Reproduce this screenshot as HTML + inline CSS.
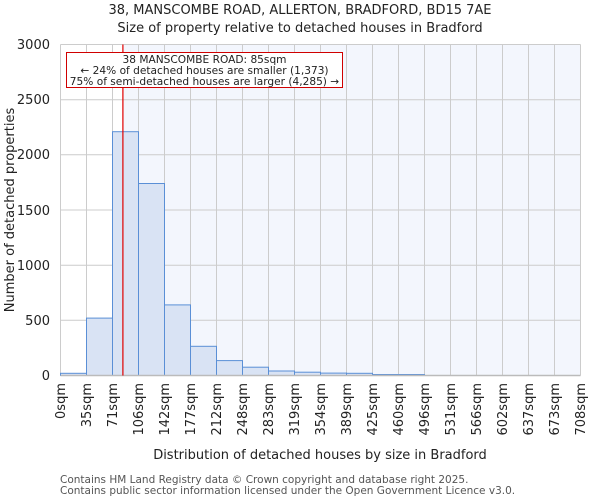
<!DOCTYPE html>
<html><head><meta charset="utf-8"><style>body{margin:0;background:#fff}svg{display:block;font-family:"DejaVu Sans","Liberation Sans",sans-serif}</style></head>
<body>
<svg width="600" height="500" viewBox="0 0 600 500" xmlns="http://www.w3.org/2000/svg">
<rect width="600" height="500" fill="#fff"/>
<text x="300" y="14" font-size="13" text-anchor="middle" fill="#222">38, MANSCOMBE ROAD, ALLERTON, BRADFORD, BD15 7AE</text>
<text x="300" y="32" font-size="13" text-anchor="middle" fill="#222">Size of property relative to detached houses in Bradford</text>
<rect x="122.9" y="44.5" width="457.6" height="331" fill="#f3f6fd"/>
<g stroke="#cccccc" stroke-width="1">
<line x1="60.5" y1="44.5" x2="580.5" y2="44.5"/><line x1="60.5" y1="99.7" x2="580.5" y2="99.7"/><line x1="60.5" y1="154.8" x2="580.5" y2="154.8"/><line x1="60.5" y1="210" x2="580.5" y2="210"/><line x1="60.5" y1="265.2" x2="580.5" y2="265.2"/><line x1="60.5" y1="320.3" x2="580.5" y2="320.3"/>
<line x1="60.5" y1="44.5" x2="60.5" y2="375.5"/><line x1="86.5" y1="44.5" x2="86.5" y2="375.5"/><line x1="112.5" y1="44.5" x2="112.5" y2="375.5"/><line x1="138.5" y1="44.5" x2="138.5" y2="375.5"/><line x1="164.5" y1="44.5" x2="164.5" y2="375.5"/><line x1="190.5" y1="44.5" x2="190.5" y2="375.5"/><line x1="216.5" y1="44.5" x2="216.5" y2="375.5"/><line x1="242.5" y1="44.5" x2="242.5" y2="375.5"/><line x1="268.5" y1="44.5" x2="268.5" y2="375.5"/><line x1="294.5" y1="44.5" x2="294.5" y2="375.5"/><line x1="320.5" y1="44.5" x2="320.5" y2="375.5"/><line x1="346.5" y1="44.5" x2="346.5" y2="375.5"/><line x1="372.5" y1="44.5" x2="372.5" y2="375.5"/><line x1="398.5" y1="44.5" x2="398.5" y2="375.5"/><line x1="424.5" y1="44.5" x2="424.5" y2="375.5"/><line x1="450.5" y1="44.5" x2="450.5" y2="375.5"/><line x1="476.5" y1="44.5" x2="476.5" y2="375.5"/><line x1="502.5" y1="44.5" x2="502.5" y2="375.5"/><line x1="528.5" y1="44.5" x2="528.5" y2="375.5"/><line x1="554.5" y1="44.5" x2="554.5" y2="375.5"/><line x1="580.5" y1="44.5" x2="580.5" y2="375.5"/>
</g>
<g fill="#d9e3f4" stroke="#5a8fd6" stroke-width="1">
<rect x="60.5" y="373.3" width="26" height="2.2"/>
<rect x="86.5" y="318.1" width="26" height="57.4"/>
<rect x="112.5" y="131.7" width="26" height="243.8"/>
<rect x="138.5" y="183.5" width="26" height="192"/>
<rect x="164.5" y="304.9" width="26" height="70.6"/>
<rect x="190.5" y="346.3" width="26" height="29.2"/>
<rect x="216.5" y="360.6" width="26" height="14.9"/>
<rect x="242.5" y="367.2" width="26" height="8.3"/>
<rect x="268.5" y="371" width="26" height="4.5"/>
<rect x="294.5" y="372.2" width="26" height="3.3"/>
<rect x="320.5" y="373.1" width="26" height="2.4"/>
<rect x="346.5" y="373.3" width="26" height="2.2"/>
<rect x="372.5" y="374.5" width="26" height="1"/>
<rect x="398.5" y="374.5" width="26" height="1"/>
</g>
<line x1="60.5" y1="375.5" x2="580.5" y2="375.5" stroke="#bbb" stroke-width="1.5"/>
<line x1="122.9" y1="44.5" x2="122.9" y2="375.5" stroke="#e00000" stroke-width="1.2"/>
<rect x="66.5" y="52.5" width="276" height="35" fill="#fff" stroke="#d00000" stroke-width="1"/>
<g font-size="10.6" text-anchor="middle" fill="#222">
<text x="204.5" y="63">38 MANSCOMBE ROAD: 85sqm</text>
<text x="204.5" y="74">← 24% of detached houses are smaller (1,373)</text>
<text x="204.5" y="85">75% of semi-detached houses are larger (4,285) →</text>
</g>
<g font-size="13" text-anchor="end" fill="#222">
<text x="50" y="49">3000</text><text x="50" y="104">2500</text><text x="50" y="159">2000</text><text x="50" y="215">1500</text><text x="50" y="270">1000</text><text x="50" y="325">500</text><text x="50" y="380">0</text>
</g>
<text transform="translate(14,210) rotate(-90)" font-size="13" text-anchor="middle" fill="#222">Number of detached properties</text>
<g font-size="13" text-anchor="end" fill="#222">
<text transform="translate(65,383) rotate(-90)">0sqm</text>
<text transform="translate(91,383) rotate(-90)">35sqm</text>
<text transform="translate(117,383) rotate(-90)">71sqm</text>
<text transform="translate(143,383) rotate(-90)">106sqm</text>
<text transform="translate(169,383) rotate(-90)">142sqm</text>
<text transform="translate(195,383) rotate(-90)">177sqm</text>
<text transform="translate(221,383) rotate(-90)">212sqm</text>
<text transform="translate(247,383) rotate(-90)">248sqm</text>
<text transform="translate(273,383) rotate(-90)">283sqm</text>
<text transform="translate(299,383) rotate(-90)">319sqm</text>
<text transform="translate(325,383) rotate(-90)">354sqm</text>
<text transform="translate(351,383) rotate(-90)">389sqm</text>
<text transform="translate(377,383) rotate(-90)">425sqm</text>
<text transform="translate(403,383) rotate(-90)">460sqm</text>
<text transform="translate(429,383) rotate(-90)">496sqm</text>
<text transform="translate(455,383) rotate(-90)">531sqm</text>
<text transform="translate(481,383) rotate(-90)">566sqm</text>
<text transform="translate(507,383) rotate(-90)">602sqm</text>
<text transform="translate(533,383) rotate(-90)">637sqm</text>
<text transform="translate(559,383) rotate(-90)">673sqm</text>
<text transform="translate(585,383) rotate(-90)">708sqm</text>
</g>
<text x="320" y="459" font-size="13" text-anchor="middle" fill="#222">Distribution of detached houses by size in Bradford</text>
<g font-size="10.5" fill="#555">
<text x="60" y="483">Contains HM Land Registry data © Crown copyright and database right 2025.</text>
<text x="60" y="494">Contains public sector information licensed under the Open Government Licence v3.0.</text>
</g>
</svg>
</body></html>
